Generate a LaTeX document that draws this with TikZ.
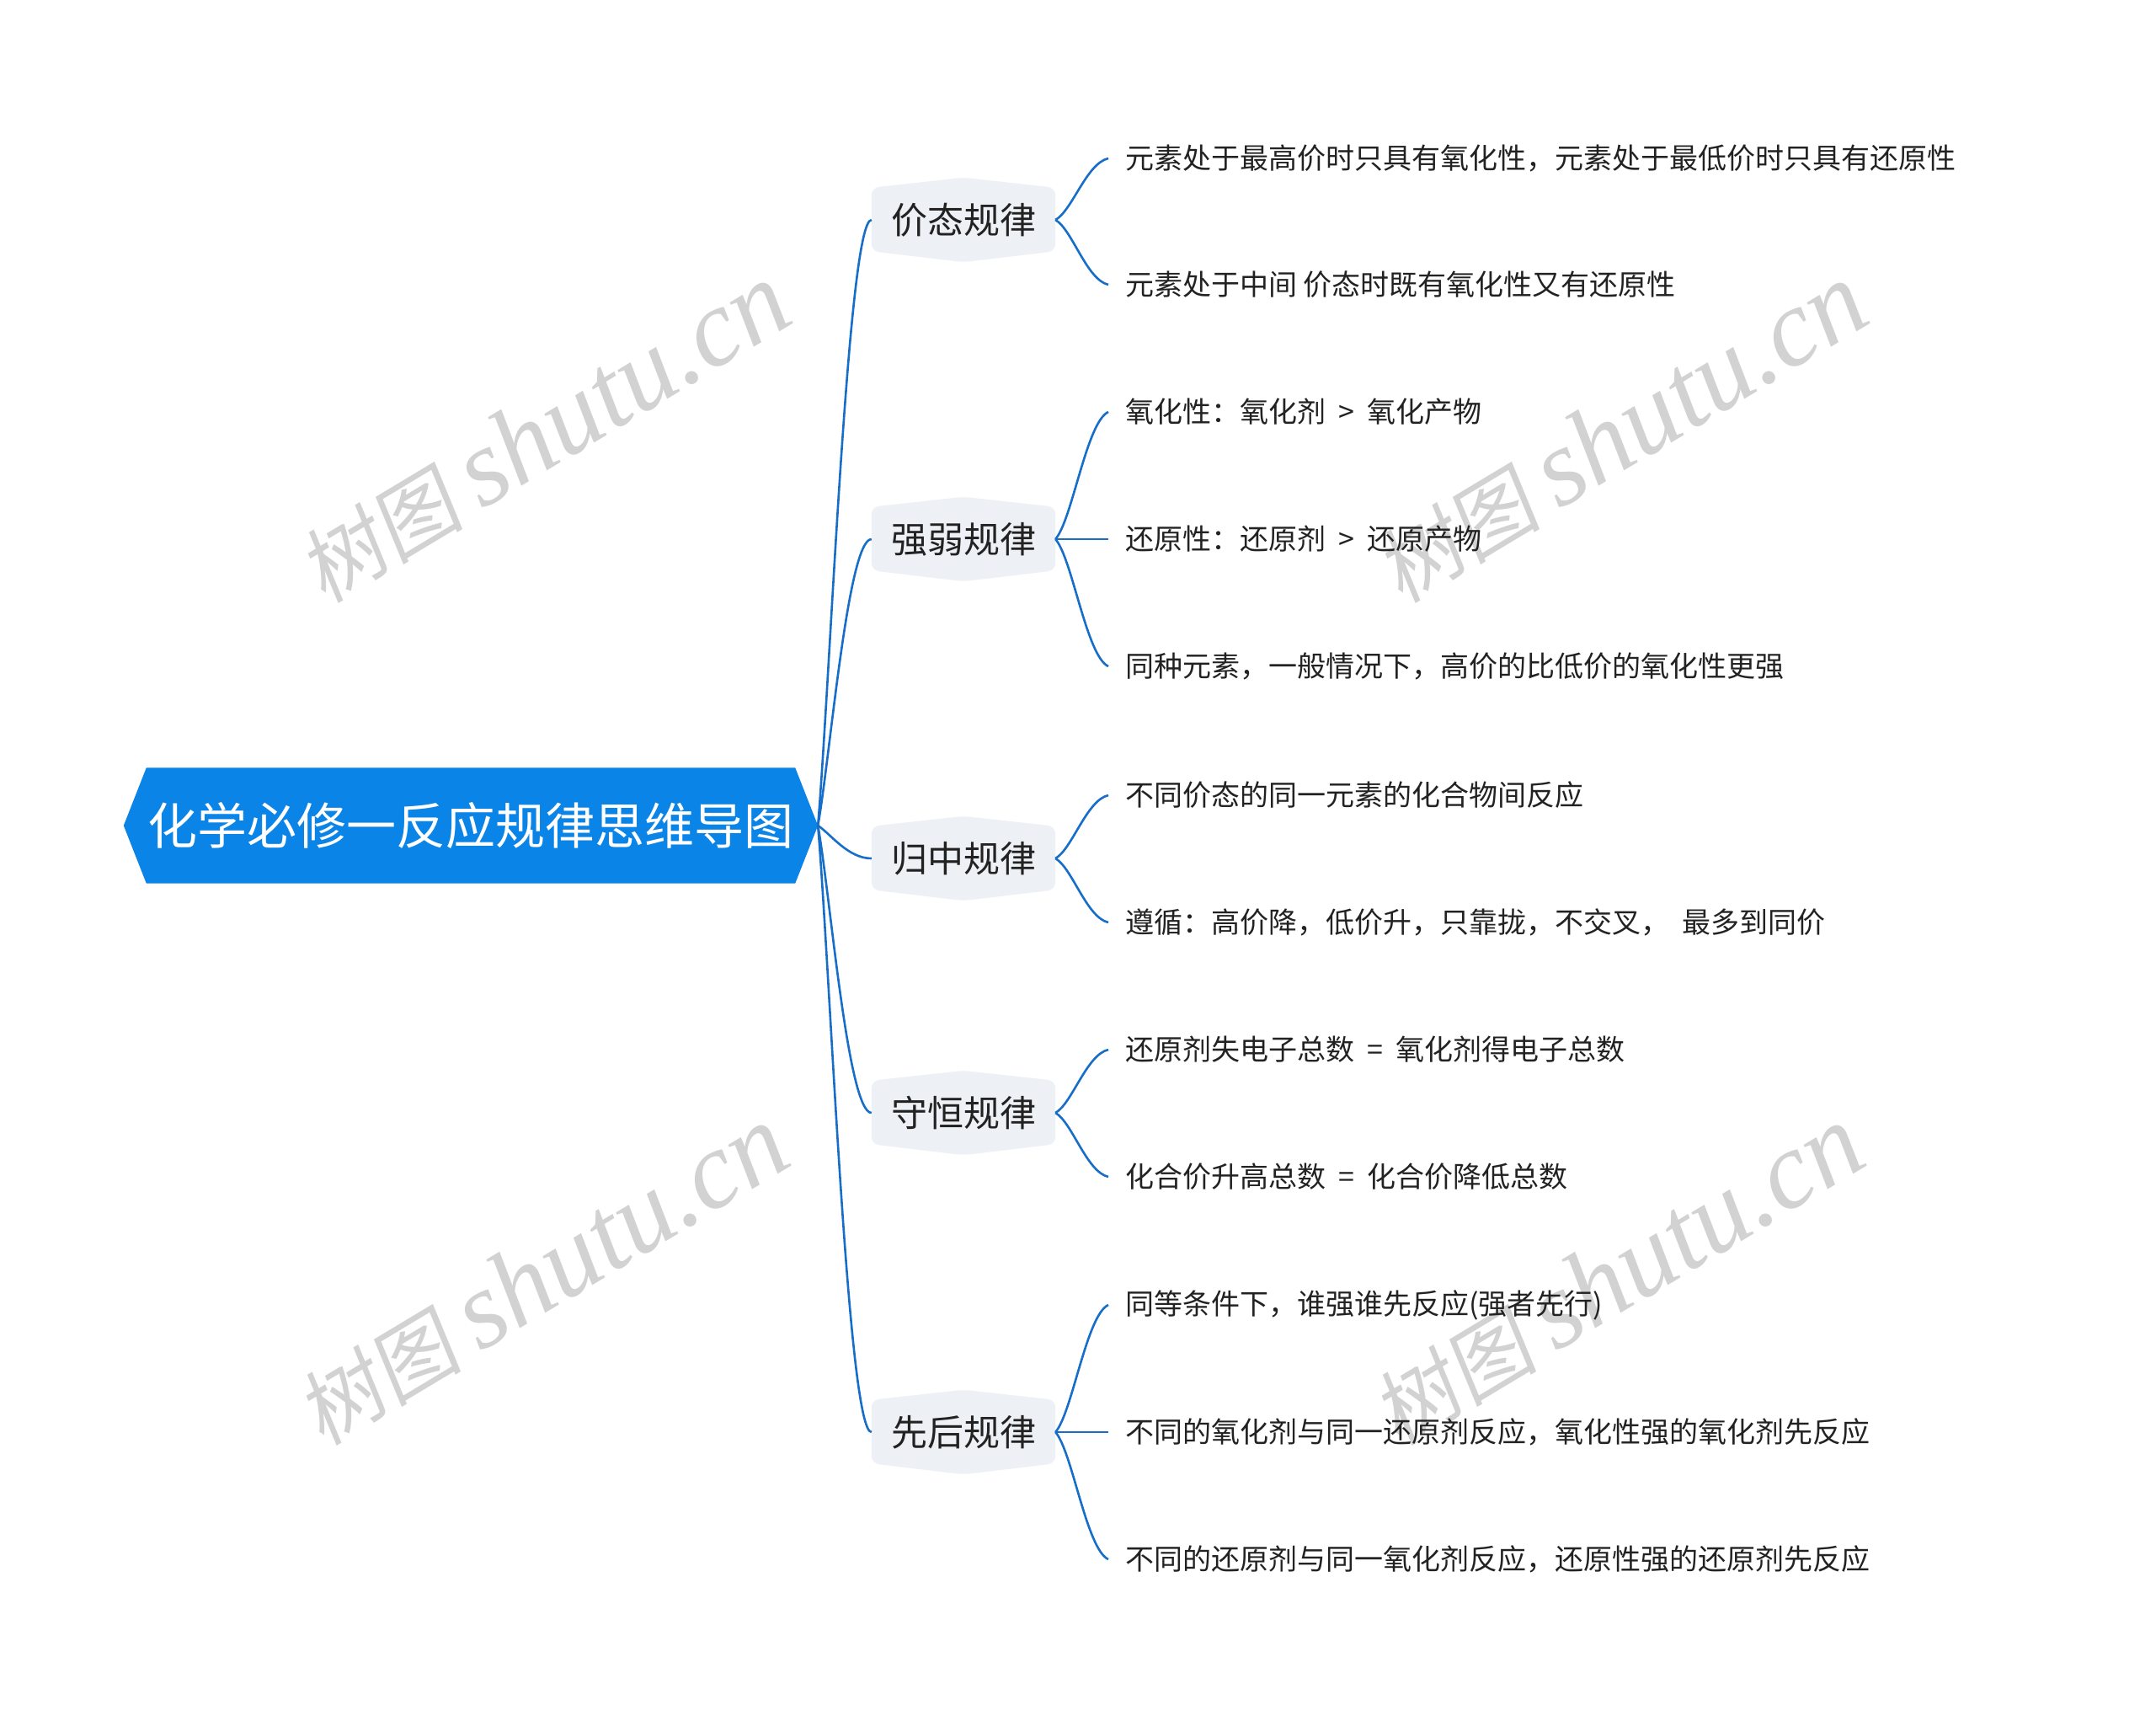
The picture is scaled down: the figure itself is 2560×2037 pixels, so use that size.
\documentclass[tikz,border=0pt]{standalone}
\usepackage{fontspec}
\newfontfamily\cjk{Noto Sans CJK SC}
\newfontfamily\wmcjk{Noto Sans CJK SC}[FakeSlant=0.15]
\newfontfamily\wmlatin{Liberation Serif}
\usetikzlibrary{calc}
\pgfdeclarelayer{background}
\pgfdeclarelayer{canvas}
\pgfsetlayers{canvas,background,main}
\definecolor{rootblue}{HTML}{0B84E8}
\definecolor{linkblue}{HTML}{176EC8}
\definecolor{branchfill}{HTML}{EDF0F4}
\definecolor{txtdark}{HTML}{222222}
\definecolor{wmgray}{HTML}{D2D2D2}
\newcommand{\gsp}{\hspace{0.45em}}
\begin{document}
\begin{tikzpicture}[x=1pt,y=-1pt,
 roottxt/.style={inner sep=0pt, minimum width=824pt, minimum height=137pt, text=white, font=\cjk\fontsize{59pt}{70pt}\selectfont},
 branchtxt/.style={inner sep=0pt, minimum width=218pt, minimum height=100pt, text=txtdark, font=\cjk\fontsize{43pt}{52pt}\selectfont},
 leaftxt/.style={anchor=west, inner xsep=20pt, inner ysep=4pt, text=txtdark, font=\cjk\fontsize{34pt}{41pt}\selectfont},
 conn/.style={draw=linkblue, line width=2.6pt},
 wm/.style={text=wmgray, rotate=31, inner sep=0pt}]
\useasboundingbox (0,0) rectangle (2560,2037);
\begin{pgfonlayer}{canvas}
\fill[white] (0,0) rectangle (2560,2037);
\end{pgfonlayer}

% watermarks
\foreach \n/\px/\py in {wm1/645/514, wm2/1924/514, wm3/643/1514, wm4/1920/1514}
  \node[wm] (\n) at (\px,\py) {{\wmcjk\fontsize{98pt}{100pt}\selectfont 树图}\hspace{22pt}{\wmlatin\itshape\fontsize{130pt}{140pt}\selectfont shutu.cn}};

% root
\node[roottxt] (root) at (559,980) {化学必修一反应规律思维导图};

% branches
\node[branchtxt] (b1) at (1144,261) {价态规律};
\node[branchtxt] (b2) at (1144,640) {强弱规律};
\node[branchtxt] (b3) at (1144,1019) {归中规律};
\node[branchtxt] (b4) at (1144,1321) {守恒规律};
\node[branchtxt] (b5) at (1144,1700) {先后规律};

% leaves
\node[leaftxt] (l11) at (1316,188) {元素处于最高价时只具有氧化性，元素处于最低价时只具有还原性};
\node[leaftxt] (l12) at (1316,338) {元素处于中间 价态时既有氧化性又有还原性};
\node[leaftxt] (l21) at (1316,489) {氧化性：氧化剂\gsp{}>\gsp{}氧化产物};
\node[leaftxt] (l22) at (1316,640) {还原性：还原剂\gsp{}>\gsp{}还原产物};
\node[leaftxt] (l23) at (1316,791) {同种元素，一般情况下，高价的比低价的氧化性更强};
\node[leaftxt] (l31) at (1316,944) {不同价态的同一元素的化合物间反应};
\node[leaftxt] (l32) at (1316,1095) {遵循：高价降，低价升，只靠拢，不交叉，\gsp{}最多到同价};
\node[leaftxt] (l41) at (1316,1246) {还原剂失电子总数\gsp{}=\gsp{}氧化剂得电子总数};
\node[leaftxt] (l42) at (1316,1397) {化合价升高总数\gsp{}=\gsp{}化合价降低总数};
\node[leaftxt] (l51) at (1316,1549) {同等条件下，谁强谁先反应(强者先行)};
\node[leaftxt] (l52) at (1316,1700) {不同的氧化剂与同一还原剂反应，氧化性强的氧化剂先反应};
\node[leaftxt] (l53) at (1316,1851) {不同的还原剂与同一氧化剂反应，还原性强的还原剂先反应};

\begin{pgfonlayer}{background}
\fill[rootblue] (root.west) -- ([xshift=27pt]root.north west) -- ([xshift=-27pt]root.north east) -- (root.east) -- ([xshift=-27pt]root.south east) -- ([xshift=27pt]root.south west) -- cycle;
\foreach \b in {b1,b2,b3,b4,b5}
  \fill[branchfill, rounded corners=9pt] (\b.north) -- ([yshift=-12pt]\b.north east) -- ([yshift=13pt]\b.south east) -- (\b.south) -- ([yshift=13pt]\b.south west) -- ([yshift=-12pt]\b.north west) -- cycle;
\end{pgfonlayer}

% root to branches
\foreach \b in {b1,b2,b3,b4,b5}
  \draw[conn] (root.east) .. controls ($(root.east)!0.25!(root.east |- \b.west) + (15pt,0)$) and ($(\b.west)+(-28pt,0)$) .. (\b.west);

% branches to leaves
\foreach \b/\l in {b1/l11, b1/l12, b2/l21, b2/l22, b2/l23, b3/l31, b3/l32, b4/l41, b4/l42, b5/l51, b5/l52, b5/l53}
  \draw[conn] (\b.east) .. controls ($(\b.east)!0.15!(\b.east |- \l.west) + (20pt,0)$) and ($(\l.west)!0.08!(\l.west |- \b.east) + (-26pt,0)$) .. (\l.west);
\end{tikzpicture}
\end{document}
